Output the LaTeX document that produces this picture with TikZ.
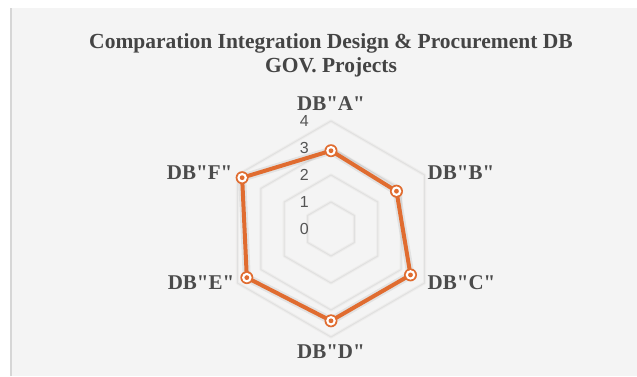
\documentclass[tikz,border=0pt]{standalone}
\usepackage{fontspec}
\setmainfont{Liberation Serif}
\setsansfont{Liberation Sans}
\usetikzlibrary{calc, positioning}
\definecolor{pageBg}{RGB}{244, 244, 244}
\definecolor{edgeLine}{RGB}{214, 214, 214}
\definecolor{ringLine}{RGB}{224, 224, 224}
\definecolor{ringHalo}{RGB}{237, 236, 235}
\definecolor{serieLine}{RGB}{224, 108, 48}
\definecolor{nameText}{RGB}{75, 75, 75}
\definecolor{tickText}{RGB}{85, 85, 85}

% straight double quote, kept out of the tex-text mapping
\newcommand{\sq}{\XeTeXglyph\XeTeXglyphindex "quotedbl"\relax}

\tikzset{
  axisname/.style={font=\fontsize{21}{24}\selectfont\bfseries, text=nameText, inner sep=0pt},
  ticklabel/.style={font=\sffamily\fontsize{16}{18}\selectfont, text=tickText, inner sep=0pt, anchor=east},
}

\begin{document}
\begin{tikzpicture}[x=1pt, y=1pt]
  \def\uu{27}
  \def\rr{108}
  \useasboundingbox (-331,-147) rectangle (306,229);
  \fill[white] (-331,-147) rectangle (306,229);
  \fill[pageBg] (-320,-147) rectangle (306,221);
  \draw[edgeLine, line width=1.2pt] (-320,-147) -- (-320,221);

  % Rings for 1..4
  \foreach \v in {1,...,4} {
    \draw[ringHalo, line width=3pt, line join=round]
      (90:\v*\uu) -- (30:\v*\uu) -- (-30:\v*\uu) -- (-90:\v*\uu)
      -- (210:\v*\uu) -- (150:\v*\uu) -- cycle;
    \draw[ringLine, line width=0.9pt, line join=round]
      (90:\v*\uu) -- (30:\v*\uu) -- (-30:\v*\uu) -- (-90:\v*\uu)
      -- (210:\v*\uu) -- (150:\v*\uu) -- cycle;
  }

  % Outer vertices
  \coordinate (vA) at (90:\rr);
  \coordinate (vB) at (30:\rr);
  \coordinate (vC) at (-30:\rr);
  \coordinate (vD) at (-90:\rr);
  \coordinate (vE) at (210:\rr);
  \coordinate (vF) at (150:\rr);

  \foreach \v in {0,...,4}
    \node[ticklabel] (t\v) at (-22, \v*\uu) {\v};

  \node[axisname, above=10pt of vA] (nA) {DB\sq A\sq};
  \node[axisname, right=3pt of vB, yshift=2pt] (nB) {DB\sq B\sq};
  \node[axisname, right=3pt of vC] (nC) {DB\sq C\sq};
  \node[axisname, below=8pt of vD] (nD) {DB\sq D\sq};
  \node[axisname, left=3pt of vE] (nE) {DB\sq E\sq};
  \node[axisname, left=5pt of vF, yshift=2pt] (nF) {DB\sq F\sq};

  % Data points
  \coordinate (pA) at (90:2.9*\uu);
  \coordinate (pB) at (30:2.8*\uu);
  \coordinate (pC) at (-30:3.4*\uu);
  \coordinate (pD) at (-90:3.4*\uu);
  \coordinate (pE) at (210:3.6*\uu);
  \coordinate (pF) at (150:3.8*\uu);

  \draw[black, opacity=0.07, line width=8pt, line join=round, yshift=-2pt]
    (pA) -- (pB) -- (pC) -- (pD) -- (pE) -- (pF) -- cycle;
  \draw[serieLine, line width=4pt, line join=round]
    (pA) -- (pB) -- (pC) -- (pD) -- (pE) -- (pF) -- cycle;
  \foreach \p in {pA,pB,pC,pD,pE,pF} {
    \fill[serieLine] (\p) circle (6.5);
    \fill[white] (\p) circle (4.8);
    \fill[serieLine] (\p) circle (2.4);
  }

  \node[font=\fontsize{21.5}{24}\selectfont\bfseries, text=nameText!90!black,
        align=center, inner sep=0pt, anchor=north] (title) at (0,196)
    {Comparation Integration Design \& Procurement DB\\GOV. Projects};
\end{tikzpicture}
\end{document}
